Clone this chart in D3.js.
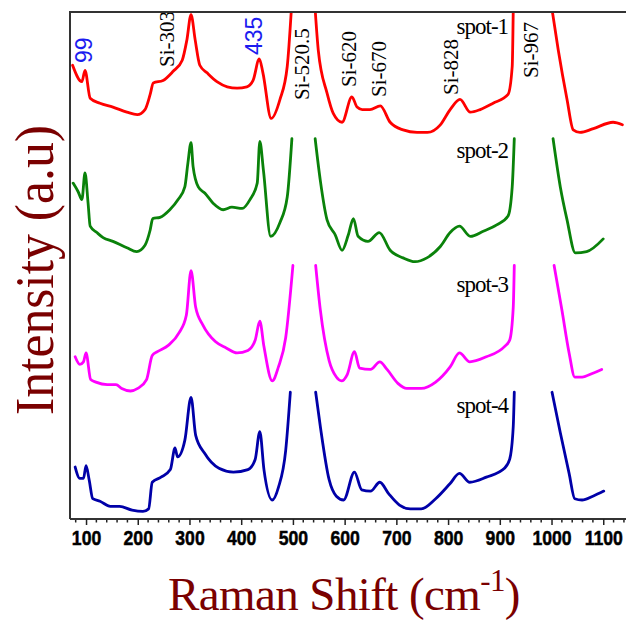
<!DOCTYPE html>
<html lang="en">
<head>
<meta charset="utf-8">
<title>Raman spectra of spots 1-4</title>
<script src="https://cdn.jsdelivr.net/npm/d3@7"></script>
<style>
  body { margin: 0; background: #fff; }
  .spec { fill: none; stroke-width: 2.8px; stroke-linejoin: round; stroke-linecap: round; }
  .serif { font-family: "Liberation Serif", "Times New Roman", serif; }
  .sans { font-family: "Liberation Sans", Arial, sans-serif; }
</style>
</head>
<body>
<div id="chart"></div>
<script>
  // spectra, each spot stacked one unit above the next, off-scale Si peaks are null
  var spots = ["spot-1", "spot-2", "spot-3", "spot-4"];
  var offsets = [3, 2, 1, 0];
  var labelLevel = [0.83, 0.85, 0.79, 0.84];

  var spot1Shift = [74,92,98,108,127,152,179,199,214,224,230,249,268,286,295,303,311,320,334,353,373,392,411,423,435,442,458,475,489,497,520,543,549,566,578,595,614,624,634,649,669,688,713,740,760,785,804,823,843,862,887,916,924,926,967,1001,1013,1030,1042,1055,1081,1119,1137];
  var spot1Int = [0.58,0.45,0.54,0.32,0.28,0.25,0.21,0.19,0.23,0.35,0.44,0.46,0.53,0.62,0.78,0.98,0.78,0.58,0.52,0.45,0.41,0.40,0.41,0.46,0.63,0.52,0.16,0.31,0.57,1.02,null,1.02,0.70,0.36,0.20,0.13,0.33,0.25,0.23,0.23,0.26,0.13,0.07,0.05,0.05,0.11,0.23,0.31,0.21,0.23,0.28,0.35,0.57,1.02,null,1.02,0.70,0.31,0.07,0.05,0.08,0.13,0.11];

  var spot2Shift = [75,85,92,98,104,108,121,133,152,179,198,214,224,229,243,262,278,291,297,303,307,317,330,346,365,382,402,417,431,436,443,457,475,489,498,520,543,553,566,582,595,607,617,626,645,667,688,713,736,759,785,804,822,843,868,894,916,924,928,967,1003,1017,1030,1046,1068,1100];
  var spot2Int = [0.65,0.58,0.52,0.73,0.49,0.31,0.26,0.22,0.19,0.14,0.11,0.16,0.28,0.37,0.38,0.44,0.52,0.62,0.81,0.97,0.78,0.62,0.57,0.49,0.44,0.46,0.45,0.52,0.65,0.98,0.75,0.23,0.34,0.54,1.0,null,1.0,0.67,0.36,0.24,0.12,0.24,0.37,0.23,0.19,0.26,0.12,0.06,0.03,0.06,0.15,0.26,0.31,0.23,0.27,0.32,0.39,0.62,1.0,null,1.0,0.62,0.36,0.10,0.11,0.21];

  var spot3Shift = [79,88,95,100,109,119,141,158,169,186,200,217,228,238,259,280,294,303,312,326,350,371,392,413,427,436,444,460,472,486,500,520,544,553,570,584,594,605,619,629,650,668,682,703,720,748,776,804,822,842,874,909,919,926,928,967,1005,1020,1034,1045,1059,1080,1097];
  var spot3Int = [0.28,0.22,0.24,0.31,0.10,0.08,0.06,0.06,0.03,0.01,0.03,0.10,0.29,0.32,0.37,0.47,0.61,0.96,0.67,0.53,0.40,0.35,0.31,0.33,0.41,0.56,0.36,0.09,0.20,0.43,1.0,null,1.0,0.65,0.25,0.12,0.09,0.14,0.32,0.19,0.18,0.24,0.18,0.07,0.03,0.03,0.08,0.20,0.31,0.24,0.28,0.36,0.41,0.67,1.0,null,1.0,0.65,0.31,0.12,0.12,0.15,0.18];

  var spot4Shift = [79,88,95,100,106,113,127,147,165,189,210,221,228,245,263,272,277,291,303,312,329,357,385,413,427,436,444,460,472,486,495,520,544,553,570,584,598,619,633,650,668,685,706,727,748,776,804,822,842,874,909,919,926,928,967,1001,1017,1034,1045,1059,1080,1101];
  var spot4Int = [0.41,0.32,0.32,0.42,0.31,0.16,0.14,0.10,0.10,0.07,0.06,0.08,0.29,0.33,0.39,0.56,0.49,0.62,0.96,0.66,0.52,0.40,0.37,0.39,0.47,0.69,0.39,0.15,0.25,0.54,1.0,null,1.0,0.73,0.31,0.18,0.15,0.37,0.23,0.22,0.29,0.20,0.11,0.08,0.08,0.16,0.28,0.36,0.29,0.33,0.40,0.47,0.73,1.0,null,1.0,0.68,0.36,0.16,0.15,0.18,0.22];

  // peak annotations
  var peakNames = ["99", "Si-303", "435", "Si-520.5", "Si-620", "Si-670", "Si-828", "Si-967"];
  var peakAt = [111, 270, 440, 531, 622, 680, 820, 974];

  var xTicks = [100, 200, 300, 400, 500, 600, 700, 800, 900, 1000, 1100];

  var shifts = [spot1Shift, spot2Shift, spot3Shift, spot4Shift];
  var ints = [spot1Int, spot2Int, spot3Int, spot4Int];
  var colors = ["#ff0000", "#0a820a", "#ff00ff", "#0000a8"];
  var peakColor = ["#1c1cf0", "#000", "#1c1cf0", "#000", "#000", "#000", "#000", "#000"];
  var peakBottom = [63, 67, 55, 100, 87, 97, 95, 78];

  var width = 626, height = 620;
  var mLeft = 70, mTop = 12, mRight = 626, mBottom = 519;

  var svg = d3.select("#chart").append("svg")
    .attr("width", width)
    .attr("height", height);

  var x = d3.scaleLinear().domain([69, 1144]).range([mLeft, mRight]);
  var y = d3.scaleLinear().domain([0, 4]).range([mBottom, mTop]);

  svg.append("clipPath").attr("id", "plotclip")
    .append("rect")
    .attr("x", mLeft).attr("y", mTop)
    .attr("width", mRight - mLeft).attr("height", mBottom - mTop);

  var line = d3.line()
    .defined(function (d) { return d[1] != null; })
    .x(function (d) { return x(d[0]); })
    .y(function (d) { return y(d[1]); })
    .curve(d3.curveMonotoneX);

  var plot = svg.append("g").attr("clip-path", "url(#plotclip)");

  spots.forEach(function (name, i) {
    var pts = shifts[i].map(function (s, j) {
      return [s, ints[i][j] == null ? null : ints[i][j] + offsets[i]];
    });
    plot.append("path")
      .attr("class", "spec")
      .attr("stroke", colors[i])
      .attr("d", line(pts));

    svg.append("text")
      .attr("class", "serif")
      .attr("x", x(916))
      .attr("y", y(offsets[i] + labelLevel[i]))
      .attr("text-anchor", "end")
      .attr("font-size", 23)
      .attr("letter-spacing", -1)
      .attr("fill", "#000")
      .text(name);
  });

  // peak labels, rotated
  peakNames.forEach(function (p, i) {
    var isNum = peakColor[i] !== "#000";
    svg.append("text")
      .attr("class", isNum ? "sans" : "serif")
      .attr("transform", "translate(" + x(peakAt[i]) + "," + peakBottom[i] + ") rotate(-90)")
      .attr("font-size", isNum ? 23 : 21)
      .attr("fill", peakColor[i])
      .text(p);
  });

  // frame
  svg.append("path")
    .attr("d", "M" + mRight + "," + mTop + "H" + mLeft + "V" + mBottom)
    .attr("fill", "none")
    .attr("stroke", "#333")
    .attr("stroke-width", 2);

  // x axis
  var xAxis = d3.axisBottom(x)
    .tickValues(xTicks)
    .tickSize(6)
    .tickPadding(5)
    .tickFormat(d3.format("d"));

  var minor = d3.range(80, 1141, 20).filter(function (v) { return v % 100 !== 0; });

  var gx = svg.append("g")
    .attr("transform", "translate(0," + mBottom + ")");

  gx.selectAll("line.minor").data(minor).enter().append("line")
    .attr("x1", function (d) { return x(d); })
    .attr("x2", function (d) { return x(d); })
    .attr("y1", 0).attr("y2", 3.5)
    .attr("stroke", "#222").attr("stroke-width", 1.5);

  gx.call(xAxis);
  gx.select(".domain").attr("stroke", "#333").attr("stroke-width", 2)
    .attr("d", "M" + mLeft + ",0H" + mRight);
  gx.selectAll(".tick line").attr("stroke", "#222").attr("stroke-width", 1.5);
  gx.selectAll(".tick text")
    .attr("class", "sans")
    .attr("font-size", 21)
    .attr("font-weight", "bold")
    .attr("fill", "#000")
    .attr("stroke", "#000")
    .attr("stroke-width", 0.5)
    .attr("transform", "scale(0.84,1)");

  // axis titles
  var title = svg.append("text")
    .attr("class", "serif")
    .attr("x", 344)
    .attr("y", 610)
    .attr("text-anchor", "middle")
    .attr("font-size", 47)
    .attr("letter-spacing", -0.6)
    .attr("fill", "#7a0000");
  title.append("tspan").text("Raman Shift (cm");
  title.append("tspan").attr("font-size", 31).attr("dy", -19).text("-1");
  title.append("tspan").attr("dy", 19).text(")");

  svg.append("text")
    .attr("class", "serif")
    .attr("transform", "translate(53,270) rotate(-90)")
    .attr("text-anchor", "middle")
    .attr("font-size", 55)
    .attr("textLength", 290)
    .attr("lengthAdjust", "spacingAndGlyphs")
    .attr("fill", "#7a0000")
    .text("Intensity (a.u)");
</script>
</body>
</html>
